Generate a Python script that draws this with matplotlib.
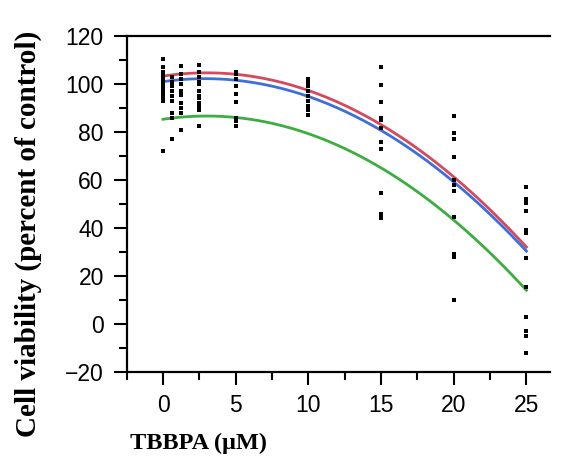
import numpy as np
import matplotlib
matplotlib.use("Agg")
import matplotlib.pyplot as plt
from matplotlib.ticker import MultipleLocator

# measured cell viability, per TBBPA concentration (uM)
conc = [0, 0.625, 1.25, 2.5, 5, 10, 15, 20, 25]
viab = [
    [110.5, 107, 105, 104, 103, 102, 101, 100, 99, 98, 97, 96, 94, 93, 72],
    [103, 101, 100, 99, 97, 95, 93, 88, 86, 77],
    [107.5, 104, 102, 100, 97, 95.5, 92, 90, 88, 81],
    [108, 105, 103, 101, 100, 97, 95, 94, 92, 91, 89, 82.5],
    [105, 104, 102, 99, 96, 92.5, 86, 84.5, 82.5],
    [102, 101, 99, 97, 95, 93, 91, 89, 87],
    [107, 99.5, 92.5, 86, 85, 81.5, 76, 73, 54.5, 46, 44],
    [86.5, 79.5, 77, 69.5, 60, 58, 55.5, 44.5, 29, 28, 10],
    [57, 52, 50.5, 47, 39, 38, 27.5, 15.5, 3, -3, -5, -12],
]

# quadratic fit coefficients (a + b*x + c*x^2)
fit_red = [103.3, 0.9, -0.15]
fit_blue = [101.0, 0.85, -0.147]
fit_green = [85.3, 0.9, -0.15]

plt.rcParams['font.family'] = ['Liberation Sans', 'DejaVu Sans']

fig = plt.figure(figsize=(5.61, 4.65), dpi=100)
ax = fig.add_axes([0.2258, 0.2, 0.754, 0.7226])

xs = np.linspace(0, 25, 200)
for coef, col in [(fit_red, '#d9475a'), (fit_blue, '#3a6fdc'), (fit_green, '#3aae3e')]:
    ax.plot(xs, coef[0] + coef[1] * xs + coef[2] * xs ** 2, color=col, lw=2)

for c, vals in zip(conc, viab):
    ax.plot([c] * len(vals), vals, 's', color='black', ms=2.8, mew=0)

ax.set_xlim(-2.5, 26.6)
ax.set_ylim(-20, 120)
ax.xaxis.set_major_locator(MultipleLocator(5))
ax.xaxis.set_minor_locator(MultipleLocator(2.5))
ax.yaxis.set_major_locator(MultipleLocator(20))
ax.yaxis.set_minor_locator(MultipleLocator(10))
ax.set_xticks([0, 5, 10, 15, 20, 25])
ax.tick_params(which='major', direction='out', length=9.5, width=1.5, labelsize=16.5)
ax.tick_params(axis='y', which='major', pad=7)
ax.tick_params(axis='x', which='major', pad=6)
ax.tick_params(which='minor', direction='out', length=5.5, width=1.5)
ax.spines['right'].set_visible(False)
for s in ['left', 'bottom', 'top']:
    ax.spines[s].set_linewidth(1.6)

fig.text(130 / 561, 1 - 443 / 465, 'TBBPA (\u03bcM)', family='Liberation Serif',
         weight='bold', fontsize=17.5, ha='left', va='center')
fig.text(28 / 561, 1 - 234 / 465, 'Cell viability (percent of control)',
         family='Liberation Serif', weight='bold', fontsize=21, rotation=90,
         ha='center', va='center')

fig.savefig('out.png', dpi=100)
